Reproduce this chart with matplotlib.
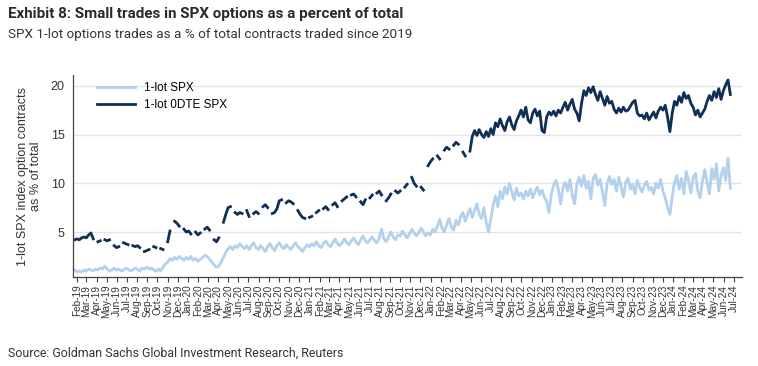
import numpy as np
import pandas as pd
import matplotlib
matplotlib.use("Agg")
import matplotlib.pyplot as plt

nan = np.nan

# weekly readings, one row per quarter (first row starts late Jan 2019)
spx_1lot = [
    1.1, 0.9, 1.0, 0.9, 1.1, 1.0, 1.2, 1.1, 1.0, 1.2,
    1.1, 1.3, 1.2, 1.5, 1.2, 1.0, 1.1, 1.3, 1.1, 1.2, 1.0, 1.1, 1.3,
    1.2, 1.0, 1.1, 1.3, 1.2, 1.0, 1.3, 1.2, 1.4, 1.2, 1.3, 1.1, 1.0,
    1.2, 1.0, 1.4, 1.7, 1.9, 2.3, 2.1, 2.4, 2.2, 2.5, 2.3, 2.1, 2.4,
    2.2, 2.5, 2.1, 2.3, 2.0, 2.2, 2.4, 2.6, 2.5, 2.2, 1.9, 1.6, 1.4,
    1.5, 1.9, 2.4, 2.9, 3.3, 3.5, 3.2, 3.6, 3.4, 3.8, 3.5, 3.3, 3.6,
    3.2, 3.6, 3.9, 3.4, 3.2, 3.6, 3.3, 3.0, 3.5, 3.8, 3.4, 3.1, 3.6,
    3.9, 3.5, 3.3, 3.7, 3.4, 3.2, 3.6, 3.9, 3.5, 3.3, 3.0, 3.4, 3.7,
    3.5, 3.8, 3.6, 4.0, 3.6, 3.4, 3.8, 4.1, 3.7, 3.5, 3.9, 4.3, 3.8,
    3.6, 3.9, 4.3, 3.9, 3.7, 4.1, 4.4, 4.0, 3.7, 4.2, 4.6, 4.1, 3.9,
    4.2, 4.5, 4.1, 3.9, 4.4, 5.3, 4.3, 4.0, 4.5, 5.0, 4.5, 4.2, 4.7,
    4.6, 5.1, 4.7, 4.4, 4.8, 5.3, 4.9, 4.6, 4.9, 5.4, 5.0, 4.6, 4.9,
    4.7, 5.3, 5.0, 5.6, 6.3, 5.4, 5.0, 5.8, 6.4, 5.5, 5.2, 6.2, 5.7,
    6.6, 7.0, 6.1, 6.8, 7.4, 6.5, 7.2, 7.9, 6.8, 6.4, 7.5, 6.0, 5.0,
    6.4, 7.8, 8.7, 7.6, 9.2, 8.4, 9.6, 8.9, 10.0, 9.1, 8.3, 9.5, 8.7,
    9.0, 8.4, 9.2, 8.7, 9.4, 8.5, 9.1, 9.6, 8.8, 9.3, 8.6, 8.1, 7.0,
    8.9, 9.8, 10.3, 9.4, 7.9, 9.6, 10.1, 9.2, 10.4, 8.8, 7.9, 9.9, 10.6,
    9.7, 10.8, 9.5, 10.2, 8.4, 10.5, 10.9, 9.8, 10.4, 9.1, 7.7, 10.0, 10.7,
    9.9, 10.4, 9.2, 10.6, 9.7, 8.6, 10.1, 10.5, 9.4, 9.9, 8.9, 10.3, 9.6,
    9.1, 9.8, 10.2, 9.3, 9.6, 8.9, 10.0, 9.5, 10.4, 9.2, 8.5, 7.5, 6.8,
    8.6, 10.1, 10.8, 9.4, 10.5, 8.9, 11.2, 10.3, 9.0, 10.6, 11.0, 9.2, 8.5,
    10.2, 11.4, 10.0, 8.9, 11.5, 10.4, 12.0, 9.2, 10.8, 11.6, 10.3, 12.6, 9.5,
]

spx_0dte_1lot = [
    4.2, 4.3, 4.2, 4.4, 4.5, 4.4, 4.7, 4.9, 4.3, nan,
    4.0, 4.1, nan, 4.2, 4.1, 4.2, nan, 3.6, 3.4, 3.5, nan, 3.9, 3.8,
    3.7, nan, 3.6, 3.5, 3.6, 3.4, nan, 3.0, 3.1, 3.2, nan, 3.5, 3.4,
    nan, 3.3, 3.2, nan, 4.0, 5.1, nan, 6.1, 5.9, 5.6, nan, 5.3, 5.0,
    5.1, 4.8, nan, 5.0, 4.7, 4.9, nan, 5.3, 5.5, 5.2, nan, 4.2, 4.0,
    4.4, nan, 6.0, 6.8, 7.5, 7.6, nan, 7.0, 6.8, 7.0, 6.9, nan, 7.2,
    6.6, nan, 6.9, 7.1, 6.9, nan, 7.6, 7.8, 7.5, nan, 6.9, 7.0, 7.4,
    8.2, 8.3, nan, 8.0, 8.2, 8.1, 7.9, nan, 7.2, 6.8, 6.5, 6.4, nan,
    6.5, 6.6, nan, 7.0, 7.2, nan, 7.4, 7.6, 7.3, nan, 7.8, 8.0, 7.6,
    nan, 8.2, 8.4, 8.6, nan, 8.8, 8.9, 8.6, nan, 8.1, 7.8, 8.3, nan,
    8.5, 8.8, nan, 9.0, 9.2, 8.8, nan, 8.2, 8.5, 8.9, nan, 9.2, 9.0,
    9.2, nan, 9.6, 9.9, nan, 10.6, 10.0, 9.7, nan, 9.6, 9.3, nan, 11.8,
    12.2, 12.5, nan, 12.8, 12.5, nan, 13.4, 13.7, 13.5, nan, 13.9, 14.2, 14.0,
    nan, 13.2, 12.8, nan, 13.3, 14.8, 15.4, 14.9, 15.5, 15.0, 14.7, 15.3, 14.8,
    15.6, 15.0, 16.2, 15.8, 16.6, 15.9, 15.4, 16.3, 16.8, 16.0, 15.5, 16.4, 16.9,
    17.5, 16.8, 17.8, 16.5, 16.2, 17.2, 17.6, 16.9, 17.4, 15.4, 15.2, 16.8, 17.3,
    17.0, 17.4, 16.9, 17.5, 17.2, 17.8, 18.3, 17.5, 18.1, 18.6, 17.6, 17.2, 16.4,
    18.2, 19.5, 19.0, 19.8, 19.3, 19.9, 19.1, 18.5, 19.4, 18.7, 18.0, 18.9, 18.2,
    18.4, 17.6, 17.2, 17.7, 17.3, 17.8, 17.4, 17.5, 17.9, 18.3, 18.5, 17.2, 16.9,
    17.0, 16.6, 17.2, 16.5, 16.9, 17.3, 16.7, 17.4, 17.8, 17.5, 18.0, 16.8, 15.3,
    17.2, 18.4, 18.0, 18.9, 18.3, 19.3, 18.7, 19.0, 18.2, 17.8, 17.0, 17.5, 16.8,
    17.2, 17.6, 18.4, 19.0, 18.5, 19.4, 18.8, 19.7, 18.6, 19.5, 20.1, 20.6, 19.1,
]

dates = pd.date_range("2019-01-25", periods=len(spx_1lot), freq="7D")
month_ticks = pd.date_range("2019-02-01", "2024-07-01", freq="MS")
tick_labels = [d.strftime("%b-%y") for d in month_ticks]

light = "#b3d1ec"
navy = "#0f2f56"

fig = plt.figure(figsize=(7.58, 3.66), dpi=100)
ax = fig.add_axes([0.0963, 0.243, 0.883, 0.552])

ax.plot(dates, spx_1lot, color=light, lw=2.0, label="1-lot SPX")
ax.plot(dates, spx_0dte_1lot, color=navy, lw=2.0, label="1-lot 0DTE SPX")

ax.set_ylim(0.38, 21.1)
ax.set_yticks([5, 10, 15, 20])
ax.set_xlim(pd.Timestamp("2019-01-20"), pd.Timestamp("2024-07-27"))
ax.set_xticks(month_ticks)
ax.set_xticklabels(tick_labels, rotation=90, fontsize=7.2,
                   family="Liberation Sans", color="#333333")
ax.tick_params(axis="x", length=3.5, width=0.8, color="#444444", pad=2)
ax.tick_params(axis="y", length=0, labelsize=9, pad=6, labelcolor="#333333")
for lab in ax.get_yticklabels():
    lab.set_family("Liberation Sans")

ax.grid(axis="y", color="#e3e3e3", lw=1)
ax.set_axisbelow(True)
for side in ["top", "right"]:
    ax.spines[side].set_visible(False)
for side in ["left", "bottom"]:
    ax.spines[side].set_color("#444444")
    ax.spines[side].set_linewidth(0.9)

ax.set_ylabel("1-lot SPX index option contracts\nas % of total",
              fontsize=9, family="Liberation Sans", color="#333333", labelpad=6)

ax.legend(loc="upper left", bbox_to_anchor=(0.025, 1.0), frameon=False,
          prop={"family": "Liberation Sans", "size": 8.5},
          handlelength=3.2, labelspacing=0.45, borderaxespad=0.2)

fig.text(0.011, 0.962, "Exhibit 8: Small trades in SPX options as a percent of total",
         fontsize=10.9, fontweight="bold", family="Roboto", color="#2a2a2a",
         va="center")
fig.text(0.011, 0.905, "SPX 1-lot options trades as a % of total contracts traded since 2019",
         fontsize=9.7, family="Roboto", color="#333333", va="center")
fig.text(0.011, 0.035, "Source: Goldman Sachs Global Investment Research, Reuters",
         fontsize=8.9, family="Roboto", color="#333333", va="center")

fig.savefig("out.png", dpi=100)
